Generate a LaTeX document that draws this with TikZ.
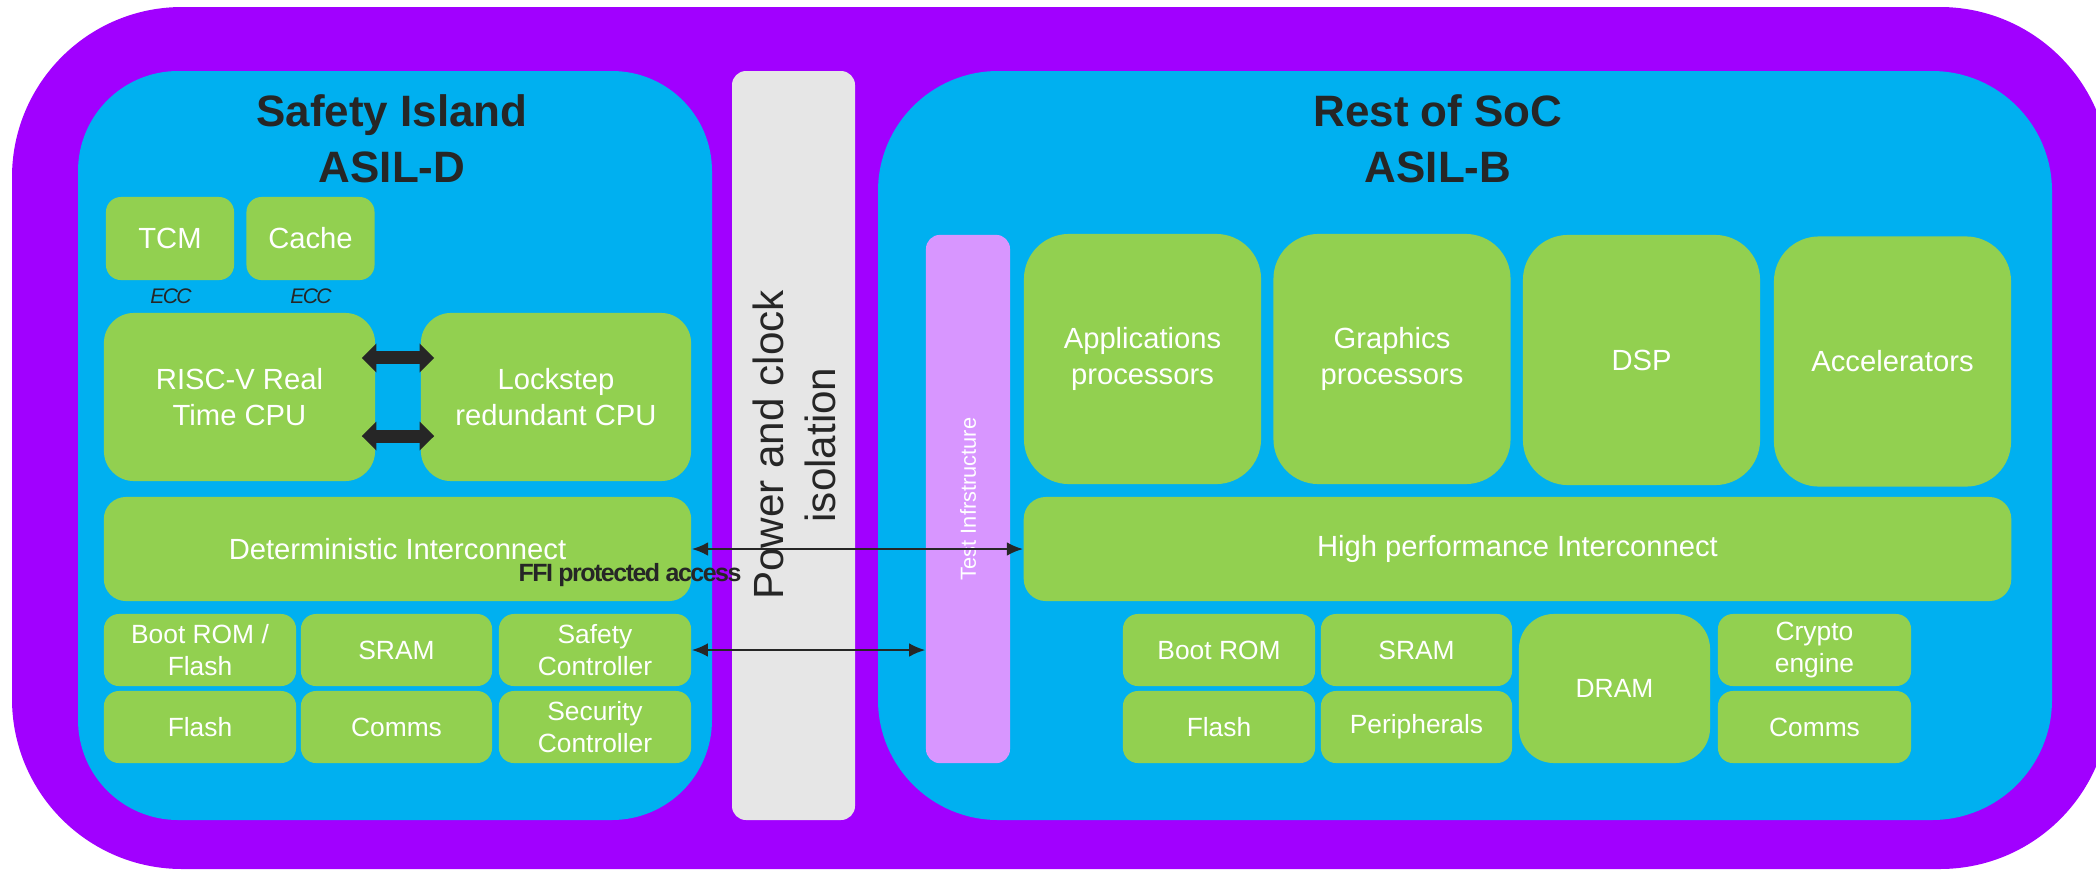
\documentclass[tikz,border=0pt]{standalone}
\usepackage{fontspec}
\setmainfont{Liberation Sans}
\usetikzlibrary{arrows.meta}

\definecolor{socpurple}{HTML}{A100FF}
\definecolor{panelblue}{HTML}{00B0F0}
\definecolor{blockgreen}{HTML}{92D050}
\definecolor{isogrey}{HTML}{E6E6E6}
\definecolor{testpink}{HTML}{D896FF}
\definecolor{ink}{HTML}{262626}

\begin{document}
\begin{tikzpicture}[x=0.01cm, y=-0.01cm,
    blk/.style={fill=blockgreen, text=white, align=center, inner sep=0pt,
        rounded corners=0.15cm, font=\fontsize{8.3}{10}\selectfont},
    cell/.style={blk, font=\fontsize{7.5}{9.2}\selectfont},
    heading/.style={text=ink, align=center, font=\bfseries\fontsize{12.5}{16}\selectfont},
    ecc/.style={text=ink, font=\itshape\fontsize{6}{7}\selectfont\addfontfeature{LetterSpace=-8}},
    link/.style={ink, line width=0.6pt, {Latex[length=4.6pt,width=3.9pt]}-{Latex[length=4.6pt,width=3.9pt]}},
    lockarrow/.style={ink, line width=3.7pt, {Triangle[length=4.2pt,width=8pt]}-{Triangle[length=4.2pt,width=8pt]},
        shorten <=-4pt, shorten >=-4pt}]

    \useasboundingbox (0,0) rectangle (2096,872);

    % panels
    \fill[socpurple, rounded corners=1.7cm] (12,7) rectangle (2110,869);
    \fill[panelblue, rounded corners=1cm] (78,71) rectangle (712,820);
    \fill[isogrey, rounded corners=0.14cm] (732,71) rectangle (855,820);
    \fill[panelblue, rounded corners=1.2cm] (878,71) rectangle (2052,820);

    % safety island
    \node[heading] (sititle) at (392,139) {Safety Island\\ASIL-D};
    \node[blk, minimum width=1.28cm, minimum height=0.83cm] (tcm) at (170,238.5) {TCM};
    \node[blk, minimum width=1.28cm, minimum height=0.83cm] (cache) at (310.5,238.5) {Cache};
    \node[ecc] (tcmecc) at (171,296) {ECC};
    \node[ecc] (cacheecc) at (311,296) {ECC};
    \node[blk, rounded corners=0.3cm, minimum width=2.71cm, minimum height=1.68cm] (risc) at (239.5,397) {RISC-V Real\\Time CPU};
    \node[blk, rounded corners=0.3cm, minimum width=2.70cm, minimum height=1.68cm] (lock) at (556,397) {Lockstep\\redundant CPU};
    \node[blk, rounded corners=0.22cm, minimum width=5.87cm, minimum height=1.04cm] (det) at (397.5,549) {Deterministic Interconnect};
    \node[cell, minimum width=1.92cm, minimum height=0.72cm] (bootflash) at (200,650) {Boot ROM /\\Flash};
    \node[cell, minimum width=1.91cm, minimum height=0.72cm] (sisram) at (396.5,650) {SRAM};
    \node[cell, minimum width=1.92cm, minimum height=0.72cm] (safety) at (595,650) {Safety\\Controller};
    \node[cell, minimum width=1.92cm, minimum height=0.72cm] (siflash) at (200,727) {Flash};
    \node[cell, minimum width=1.91cm, minimum height=0.72cm] (sicomms) at (396.5,727) {Comms};
    \node[cell, minimum width=1.92cm, minimum height=0.72cm] (security) at (595,727) {Security\\Controller};

    % isolation strip
    \node[rotate=90, text=ink, align=center, font=\fontsize{12}{14.8}\selectfont] (iso) at (794,445) {Power and clock\\isolation};

    % rest of soc
    \node[heading] (soctitle) at (1438,139) {Rest of SoC\\ASIL-B};
    \node[fill=testpink, rounded corners=0.14cm, minimum width=0.84cm, minimum height=5.28cm, inner sep=0pt] (test) at (968,499) {};
    \node[rotate=90, text=white, font=\fontsize{6.2}{7}\selectfont] (testlabel) at (test.center) {Test Infrstructure};
    \node[blk, rounded corners=0.45cm, minimum width=2.37cm, minimum height=2.5cm] (apps) at (1142.5,359) {Applications\\processors};
    \node[blk, rounded corners=0.45cm, minimum width=2.37cm, minimum height=2.5cm] (gfx) at (1392,359) {Graphics\\processors};
    \node[blk, rounded corners=0.45cm, minimum width=2.37cm, minimum height=2.5cm] (dsp) at (1641.5,360) {DSP};
    \node[blk, rounded corners=0.45cm, minimum width=2.37cm, minimum height=2.5cm] (accel) at (1892.5,361.5) {Accelerators};
    \node[blk, rounded corners=0.22cm, minimum width=9.87cm, minimum height=1.04cm] (hp) at (1517.5,549) {High performance Interconnect};
    \node[cell, minimum width=1.92cm, minimum height=0.72cm] (bootrom) at (1219,650) {Boot ROM};
    \node[cell, minimum width=1.91cm, minimum height=0.72cm] (socsram) at (1416.5,650) {SRAM};
    \node[cell, rounded corners=0.35cm, minimum width=1.91cm, minimum height=1.49cm] (dram) at (1614.5,688.5) {DRAM};
    \node[cell, minimum width=1.93cm, minimum height=0.72cm] (crypto) at (1814.5,650) {Crypto\\engine};
    \node[cell, minimum width=1.92cm, minimum height=0.72cm] (socflash) at (1219,727) {Flash};
    \node[cell, minimum width=1.91cm, minimum height=0.72cm] (periph) at (1416.5,727) {Peripherals};
    \node[cell, minimum width=1.93cm, minimum height=0.72cm] (soccomms) at (1814.5,727) {Comms};

    % connections
    \draw[lockarrow] ([yshift=0.39cm]risc.east) -- ([yshift=0.39cm]lock.west);
    \draw[lockarrow] ([yshift=-0.39cm]risc.east) -- ([yshift=-0.39cm]lock.west);
    \draw[link] (det.east) -- (hp.west);
    \draw[link] (safety.east) -- (safety.east -| test.west);
    \node[text=ink, font=\bfseries\fontsize{7.1}{8}\selectfont\addfontfeature{LetterSpace=-6}] (ffi) at (630,575) {FFI protected access};
\end{tikzpicture}
\end{document}
